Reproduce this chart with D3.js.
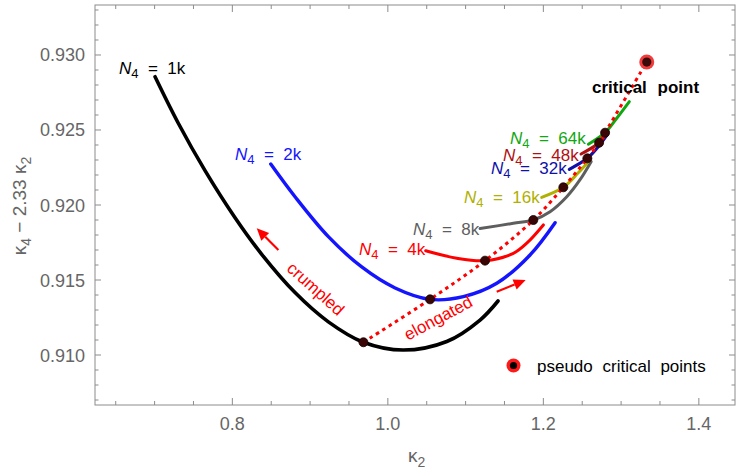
<!DOCTYPE html>
<html><head><meta charset="utf-8">
<script src="https://cdn.jsdelivr.net/npm/d3@7"></script>
<style>
html,body{margin:0;padding:0;background:#fff;}
svg text{font-family:"Liberation Sans",Arial,sans-serif;white-space:pre;}
</style></head>
<body><svg id="c" width="736" height="475"></svg>
<script>
// ---- data (kappa2, kappa4 - 2.33 kappa2) ----
const xTicks = [0.8, 1.0, 1.2, 1.4];
const yTicks = [0.910, 0.915, 0.920, 0.925, 0.930];
const sizes = ["1k","2k","4k","8k","16k","32k","48k","64k"];
const colors = ["#000000","#1414ff","#ff0000","#5e5e5e","#b0b000","#1010a8","#b01010","#10a810"];
const curve1k = [[0.7006,0.92855],[0.7305,0.92545],[0.7649,0.92229],[0.8035,0.91915],[0.8378,0.91671],[0.8806,0.91416],[0.9235,0.91221],[0.9685,0.91085],[1.0199,0.91033],[1.0758,0.9109],[1.1186,0.91233],[1.1417,0.9136]];
const curve2k = [[0.8494,0.92273],[0.8806,0.92055],[0.9235,0.91789],[0.9664,0.91587],[1.0093,0.91447],[1.0543,0.91371],[1.0971,0.91389],[1.1401,0.91478],[1.1829,0.91667],[1.2151,0.91882]];
const curve4k = [[1.0487,0.91695],[1.0886,0.91645],[1.1250,0.91629],[1.1614,0.91678],[1.1790,0.91747],[1.2000,0.91867]];
const curve8k = [[1.1186,0.91843],[1.1614,0.91878],[1.1871,0.9190],[1.2086,0.91955],[1.2301,0.92055],[1.2472,0.92169],[1.2614,0.92289]];
const curve16k = [[1.1979,0.92051],[1.2257,0.92118],[1.2446,0.92213],[1.2600,0.9230]];
const curve32k = [[1.2334,0.92238],[1.2566,0.92311],[1.2704,0.92387],[1.2819,0.92467]];
const curve48k = [[1.2485,0.9234],[1.2717,0.92415],[1.2832,0.92487]];
const curve64k = [[1.2579,0.92405],[1.2794,0.92482],[1.2944,0.92578],[1.3106,0.92689]];
const curves = [curve1k,curve2k,curve4k,curve8k,curve16k,curve32k,curve48k,curve64k];
const pseudoK = [0.9686,1.0543,1.1250,1.1871,1.2257,1.2566,1.2717,1.2794];
const pseudoV = [0.91085,0.91371,0.91629,0.9190,0.92118,0.92311,0.92415,0.92482];
const critical = [1.3330,0.92953];

// ---- layout ----
const W=736,H=475, L=95, R=735, T=5, B=405;
const svg=d3.select("#c");
const x=d3.scaleLinear().domain([0.62335,1.44649]).range([L,R]);
const y=d3.scaleLinear().domain([0.906667,0.933333]).range([B,T]);
const frameCol="#8c8c8c", tickTxt="#666";

// frame
svg.append("rect").attr("x",L).attr("y",T).attr("width",R-L).attr("height",B-T)
  .attr("fill","none").attr("stroke",frameCol).attr("stroke-width",1);

// ticks
const xMinor=d3.range(0.65,1.451,0.05).filter(v=>!xTicks.some(t=>Math.abs(t-v)<1e-6));
const yMinor=d3.range(0.907,0.9335,0.001).filter(v=>!yTicks.some(t=>Math.abs(t-v)<1e-6));
const tg=svg.append("g").attr("stroke",frameCol).attr("stroke-width",1);
function xt(v,len){ tg.append("line").attr("x1",x(v)).attr("x2",x(v)).attr("y1",B).attr("y2",B-len);
  tg.append("line").attr("x1",x(v)).attr("x2",x(v)).attr("y1",T).attr("y2",T+len);}
function yt(v,len){ tg.append("line").attr("y1",y(v)).attr("y2",y(v)).attr("x1",L).attr("x2",L+len);
  tg.append("line").attr("y1",y(v)).attr("y2",y(v)).attr("x1",R).attr("x2",R-len);}
xTicks.forEach(v=>xt(v,7)); xMinor.forEach(v=>xt(v,4));
yTicks.forEach(v=>yt(v,6)); yMinor.forEach(v=>yt(v,3.5));
xTicks.forEach(v=>svg.append("text").attr("x",x(v)).attr("y",B+25).attr("text-anchor","middle")
  .attr("font-size",18).attr("fill",tickTxt).text(d3.format(".1f")(v)));
yTicks.forEach(v=>svg.append("text").attr("x",L-10).attr("y",y(v)+6.5).attr("text-anchor","end")
  .attr("font-size",18).attr("fill",tickTxt).text(d3.format(".3f")(v)));

// axis titles
const xl=svg.append("text").attr("x",408).attr("y",462).attr("font-size",19).attr("fill",tickTxt);
xl.append("tspan").text("κ"); xl.append("tspan").attr("font-size",14).attr("dy",5).text("2");
const yl=svg.append("text").attr("transform","translate(26,206) rotate(-90)").attr("text-anchor","middle")
  .attr("font-size",19).attr("fill",tickTxt);
yl.append("tspan").text("κ"); yl.append("tspan").attr("font-size",14).attr("dy",5).text("4");
yl.append("tspan").attr("dy",-5).text(" − 2.33 κ"); yl.append("tspan").attr("font-size",14).attr("dy",5).text("2");

// curves
const line=d3.line().x(d=>x(d[0])).y(d=>y(d[1])).curve(d3.curveCatmullRom.alpha(0.5));
const widths=[3.6,3.4,3,3,3,3.2,3,3];
curves.forEach((c,i)=>svg.append("path").attr("d",line(c)).attr("fill","none")
  .attr("stroke",colors[i]).attr("stroke-width",widths[i]).attr("stroke-linecap","round"));

// dotted red path through pseudo critical points to critical point
const dpts=pseudoK.map((k,i)=>[k,pseudoV[i]]).concat([critical]);
svg.append("path").attr("d",line(dpts)).attr("fill","none").attr("stroke","#ff0000")
  .attr("stroke-width",3).attr("stroke-dasharray","3.5,4");

// pseudo critical points
pseudoK.forEach((k,i)=>{
  svg.append("circle").attr("cx",x(k)).attr("cy",y(pseudoV[i])).attr("r",4.5)
    .attr("fill","#3a0505").attr("stroke","#150000").attr("stroke-width",0.8);
});
// critical point
svg.append("circle").attr("cx",x(critical[0])).attr("cy",y(critical[1])).attr("r",7.5).attr("fill","#f03c3c");
svg.append("circle").attr("cx",x(critical[0])).attr("cy",y(critical[1])).attr("r",4.6).attr("fill","#3a0a0a");
svg.append("text").attr("x",592).attr("y",93).attr("font-size",17).attr("font-weight","bold")
  .attr("fill","#000").attr("word-spacing",6).text("critical point");

// N4 labels [x, baseline]
const labPos=[[119,74],[235,160],[359,255],[413,235],[464,203],[491,174],[503,161],[510,144]];
sizes.forEach((s,i)=>{
  const t=svg.append("text").attr("x",labPos[i][0]).attr("y",labPos[i][1]).attr("font-size",17).attr("fill",colors[i]);
  t.append("tspan").attr("font-style","italic").text("N");
  t.append("tspan").attr("font-size",13).attr("dy",4).text("4");
  t.append("tspan").attr("dy",-4).text("  =  "+s);
});

// arrows & annotation texts (data coordinates)
const arrowCrumpled=[[0.8592,0.9170],[0.8314,0.91845]];
const arrowElong=[[1.1400,0.91422],[1.1773,0.9150]];
function arrow(a){
  const x1=x(a[0][0]),y1=y(a[0][1]),x2=x(a[1][0]),y2=y(a[1][1]);
  const ang=Math.atan2(y2-y1,x2-x1), hl=12, hw=5.5;
  const bx=x2-hl*Math.cos(ang), by=y2-hl*Math.sin(ang);
  svg.append("line").attr("x1",x1).attr("y1",y1).attr("x2",bx).attr("y2",by)
    .attr("stroke","#ff0000").attr("stroke-width",2.2);
  const px=-Math.sin(ang)*hw, py=Math.cos(ang)*hw;
  svg.append("path").attr("d",`M${x2},${y2}L${bx+px},${by+py}L${bx-px},${by-py}Z`).attr("fill","#ff0000");
}
arrow(arrowCrumpled); arrow(arrowElong);
const crumpledAt=[0.9069,0.9144], elongAt=[1.0650,0.91245];
svg.append("text").attr("transform",`translate(${x(crumpledAt[0])},${y(crumpledAt[1])}) rotate(42)`)
  .attr("text-anchor","middle").attr("dominant-baseline","central").attr("font-size",17).attr("fill","#ff0000").text("crumpled");
svg.append("text").attr("transform",`translate(${x(elongAt[0])},${y(elongAt[1])}) rotate(-28)`)
  .attr("text-anchor","middle").attr("dominant-baseline","central").attr("font-size",17).attr("fill","#ff0000").text("elongated");

// legend
svg.append("circle").attr("cx",513.5).attr("cy",365.5).attr("r",7).attr("fill","#ff1a1a");
svg.append("circle").attr("cx",513.5).attr("cy",365.5).attr("r",3.6).attr("fill","#000");
svg.append("text").attr("x",537).attr("y",371.5).attr("font-size",17).attr("fill","#000")
  .attr("word-spacing",5).text("pseudo critical points");
</script></body></html>
